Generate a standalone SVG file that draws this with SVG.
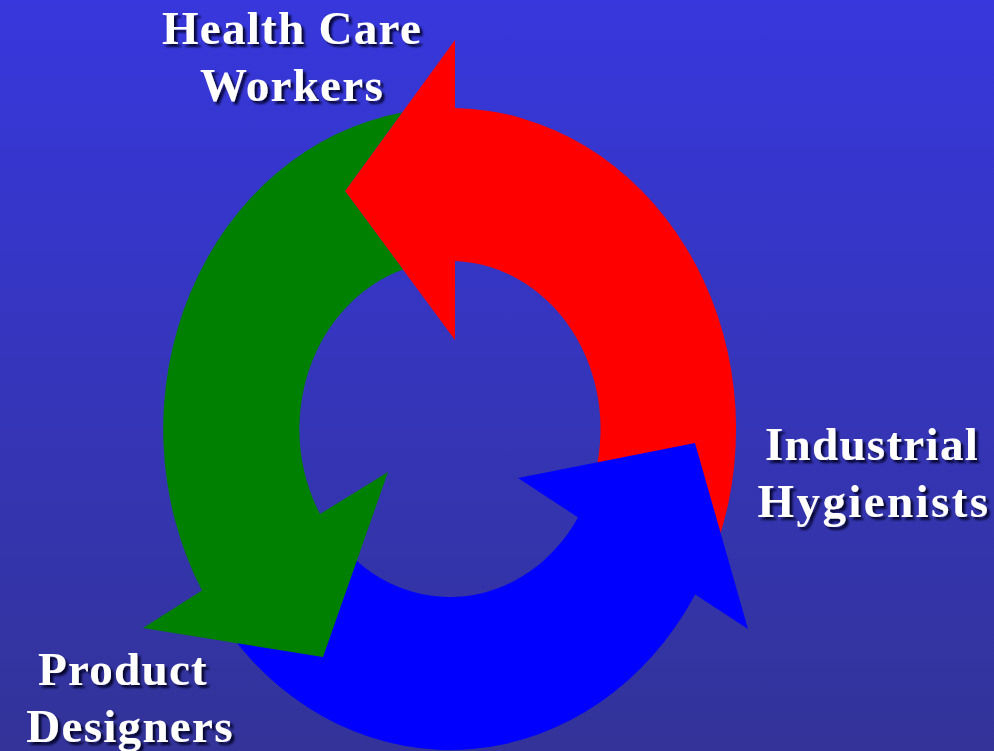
<svg xmlns="http://www.w3.org/2000/svg" width="994" height="751" viewBox="0 0 994 751">
  <defs>
    <linearGradient id="bg" x1="0" y1="0" x2="0" y2="1">
      <stop offset="0" stop-color="#3737DD"/>
      <stop offset="1" stop-color="#333399"/>
    </linearGradient>
    <filter id="shadow" x="-10%" y="-20%" width="130%" height="150%">
      <feDropShadow dx="3" dy="3" stdDeviation="1.2" flood-color="#000022" flood-opacity="0.85"/>
    </filter>
  </defs>
  <style>
    .label { font-family: "Liberation Serif", "Times New Roman", serif; font-weight: bold; font-size: 47px; fill: #FFFFFF; letter-spacing: 1.3px; text-anchor: middle; filter: url(#shadow); }
    .wide { letter-spacing: 2.4px; }
    .red { fill: #FF0000; }
    .blue { fill: #0000FF; }
    .green { fill: #008000; }
  </style>
  <rect x="0" y="0" width="994" height="751" fill="url(#bg)"/>
  <g id="connectors">
    <path id="arrow-red" class="red" d="M345,191 L455,40 L455,108 A286,321 0 0 1 718.4,540 L588.4,495 A150.5,168 0 0 0 455,261 L455,340 Z"/>
    <path id="arrow-blue" class="blue" d="M518,478 L695,443 L748,629 L695.2,594.4 A286,321 0 0 1 230,634 L340,543.7 A150.5,168 0 0 0 578,517.4 Z"/>
    <path id="arrow-green" class="green" d="M388,472 L320,514 A150.5,168 0 0 1 403,269.5 L345,191 L402,112.5 A286,321 0 0 0 202,590.5 L143,628 L323,657 Z"/>
  </g>
  <g id="health-care-workers">
    <text class="label" x="292" y="44">Health Care</text>
    <text class="label" x="292" y="101">Workers</text>
  </g>
  <g id="industrial-hygienists">
    <text class="label" x="872" y="460">Industrial</text>
    <text class="label wide" x="874" y="517">Hygienists</text>
  </g>
  <g id="product-designers">
    <text class="label" x="123" y="685">Product</text>
    <text class="label" x="130" y="742">Designers</text>
  </g>
</svg>
